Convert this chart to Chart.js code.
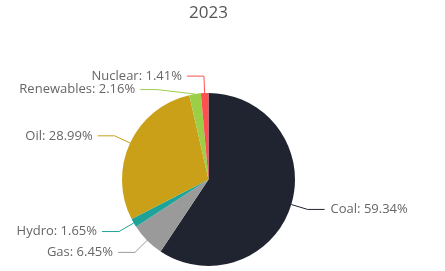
<!DOCTYPE html>
<html>
<head>
<meta charset="utf-8">
<script src="https://cdn.jsdelivr.net/npm/chart.js@4.4.1/dist/chart.umd.min.js"></script>
<style>
  html, body { margin: 0; padding: 0; background: #ffffff; }
  #wrap { width: 445px; height: 271px; position: relative; }
</style>
</head>
<body>
<div id="wrap"><canvas id="energyPie"></canvas></div>
<script>
// energy mix 2023 (share in %)
const chartTitle = '2023';
const categories = ['Coal', 'Gas', 'Hydro', 'Oil', 'Renewables', 'Nuclear'];
const shares = [59.34, 6.45, 1.65, 28.99, 2.16, 1.41];
const sliceColors = ['#1f2430', '#9a9a9a', '#1fa398', '#c9a017', '#9ccf48', '#ff4f4f'];

const labelFont = '13px "Open Sans", sans-serif';
const labelColor = '#666666';

// outside labels with crooked connector lines
const pieLabels = {
  id: 'pieLabels',
  afterDatasetsDraw(chart) {
    const ctx = chart.ctx;
    const meta = chart.getDatasetMeta(0);
    const gap = 13.5;

    const items = meta.data.map((arc, i) => {
      const p = arc.getProps(['x', 'y', 'startAngle', 'endAngle', 'outerRadius'], true);
      const mid = (p.startAngle + p.endAngle) / 2;
      const R = p.outerRadius + 17;
      return {
        i: i, cx: p.x, cy: p.y, R: R,
        left: Math.cos(mid) < 0,
        ex: p.x + Math.cos(mid) * p.outerRadius,
        ey: p.y + Math.sin(mid) * p.outerRadius,
        ly: p.y + Math.sin(mid) * R
      };
    });

    // push overlapping labels down on each side
    [true, false].forEach(side => {
      const group = items.filter(it => it.left === side).sort((a, b) => a.ly - b.ly);
      for (let k = 1; k < group.length; k++) {
        if (group[k].ly - group[k - 1].ly < gap) group[k].ly = group[k - 1].ly + gap;
      }
    });

    ctx.save();
    ctx.font = labelFont;
    ctx.textBaseline = 'middle';
    items.forEach(it => {
      const dy = it.ly - it.cy;
      const dx = Math.sqrt(Math.max(0, it.R * it.R - dy * dy));
      let crookX, endX;
      if (it.left) {
        crookX = Math.min(it.cx - dx, it.ex);
        endX = crookX - 17;
      } else {
        crookX = Math.max(it.cx + dx, it.ex);
        endX = crookX + 17;
      }
      ctx.strokeStyle = sliceColors[it.i];
      ctx.lineWidth = 1;
      ctx.beginPath();
      ctx.moveTo(endX, it.ly);
      ctx.lineTo(crookX, it.ly);
      ctx.lineTo(it.ex, it.ey);
      ctx.stroke();

      const text = categories[it.i] + ': ' + shares[it.i].toFixed(2) + '%';
      ctx.fillStyle = labelColor;
      if (it.left) {
        ctx.textAlign = 'right';
        ctx.fillText(text, endX - 5, it.ly);
      } else {
        ctx.textAlign = 'left';
        ctx.fillText(text, endX + 6, it.ly);
      }
    });
    ctx.restore();
  }
};

const pieChart = new Chart(document.getElementById('energyPie'), {
  type: 'pie',
  data: {
    labels: categories,
    datasets: [{
      data: shares,
      backgroundColor: sliceColors,
      borderWidth: 0
    }]
  },
  options: {
    responsive: true,
    maintainAspectRatio: false,
    animation: false,
    layout: { padding: { top: 0, bottom: 5, left: 122, right: 150 } },
    plugins: {
      legend: { display: false },
      tooltip: { enabled: false },
      title: {
        display: true,
        text: chartTitle,
        color: '#555555',
        font: { family: '"Open Sans", sans-serif', size: 17, weight: 'normal' },
        padding: { top: 3, bottom: 69.6 }
      }
    }
  },
  plugins: [pieLabels]
});
</script>
</body>
</html>
